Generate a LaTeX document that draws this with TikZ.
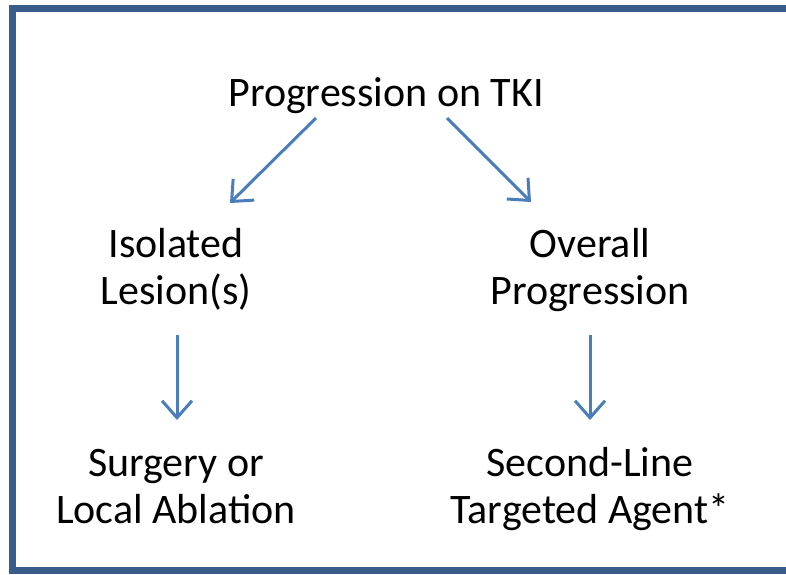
\documentclass[tikz,border=0pt]{standalone}
\usepackage{fontspec}
\setmainfont{Carlito}
\usetikzlibrary{arrows.meta,calc}
\definecolor{frameblue}{HTML}{385D8A}
\definecolor{arrowblue}{HTML}{4A7EBB}

\begin{document}
\begin{tikzpicture}[x=1pt, y=-1pt,
	every node/.style={font=\fontsize{42}{47}\selectfont, align=center, inner sep=0pt, anchor=base},
	arr/.style={-{Straight Barb[length=17pt,width=30pt]}, arrowblue, line width=3pt}]
	\useasboundingbox (0,0) rectangle (786,574);
	\fill[white] (0,0) rectangle (786,574);
	\draw[frameblue, line width=7pt] (786,8) -- (12.5,8) -- (12.5,570.5) -- (786,570.5);
	% labels
	\node (top) at (386,106) {Progression on TKI};
	\node (iso) at (176,304) {Isolated\\Lesion(s)};
	\node (all) at (590,304) {Overall\\Progression};
	\node (surg) at (176,523) {Surgery or\\Local Ablation};
	\node (second) at (590,523) {Second-Line\\Targeted Agent*};
	% arrows
	\draw[arr] ($(top.base)+(-70,12)$) -- ($(iso.base)+(54,-101)$);
	\draw[arr] ($(top.base)+(61,12)$) -- ($(all.base)+(-59,-102)$);
	\draw[arr] ($(iso.base)+(1,31)$) -- ($(surg.base)+(1,-103)$);
	\draw[arr] ($(all.base)+(0,31)$) -- ($(second.base)+(0,-103)$);
\end{tikzpicture}
\end{document}
